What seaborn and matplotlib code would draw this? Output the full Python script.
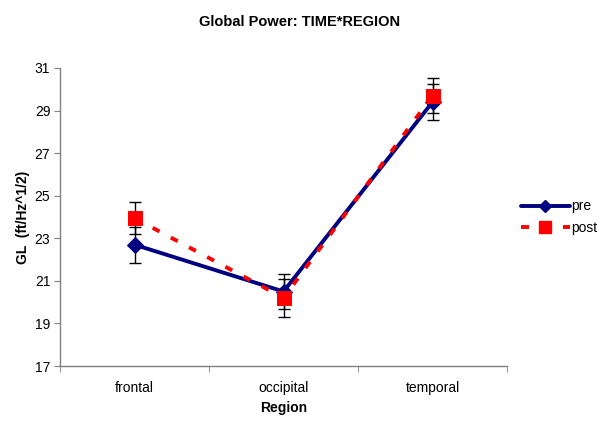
import matplotlib
matplotlib.use("Agg")
import matplotlib.pyplot as plt
import seaborn as sns
import pandas as pd
from matplotlib.lines import Line2D

regions = ["frontal", "occipital", "temporal"]
pre = [22.7, 20.5, 29.4]
post = [23.95, 20.2, 29.7]
pre_err = [0.85, 0.83, 0.85]
post_err = [0.77, 0.88, 0.83]
yticks = [17, 19, 21, 23, 25, 27, 29, 31]

sns.set_style("white")
plt.rcParams['font.family'] = ['Liberation Sans', 'DejaVu Sans']
plt.rcParams['text.color'] = 'black'
plt.rcParams['axes.labelcolor'] = 'black'
plt.rcParams['xtick.color'] = '#808080'
plt.rcParams['ytick.color'] = '#808080'
plt.rcParams['xtick.labelcolor'] = 'black'
plt.rcParams['ytick.labelcolor'] = 'black'

df = pd.DataFrame({
    "pos": list(range(3)) * 2,
    "value": pre + post,
    "time": ["pre"] * 3 + ["post"] * 3,
})

fig = plt.figure(figsize=(6, 4.21), dpi=100)
ax = fig.add_axes([0.1, 0.1306, 0.745, 0.7079])

# error bars
ax.errorbar(range(3), pre, yerr=pre_err, fmt='none', ecolor='black', elinewidth=1, capsize=4, capthick=1, zorder=1)
ax.errorbar(range(3), post, yerr=post_err, fmt='none', ecolor='black', elinewidth=1, capsize=4, capthick=1, zorder=1)

sns.lineplot(data=df[df.time == "pre"], x="pos", y="value", ax=ax, color="#000080",
             linewidth=2.8, marker="D", markersize=8, markeredgecolor="#000080", legend=False, zorder=3)
sns.lineplot(data=df[df.time == "post"], x="pos", y="value", ax=ax, color="#FF0000",
             linewidth=2.8, marker="s", markersize=10, markeredgecolor="#FF0000", legend=False, zorder=4)
ax.lines[-1].set_dashes((2, 3.3))

ax.set_xlim(-0.5, 2.5)
ax.set_ylim(17, 31)
ax.set_yticks(yticks)
ax.set_yticklabels([str(t) for t in yticks], fontsize=10)
ax.set_xticks(range(3))
ax.set_xticklabels(regions, fontsize=10)
ax.set_xticks([-0.5, 0.5, 1.5, 2.5], minor=True)
ax.tick_params(axis='x', which='major', length=0, pad=11)
ax.tick_params(axis='x', which='minor', length=4, direction='out', bottom=True)
ax.tick_params(axis='y', length=4, direction='out', left=True, pad=3)

for s in ["top", "right"]:
    ax.spines[s].set_visible(False)
for s in ["left", "bottom"]:
    ax.spines[s].set_color("#808080")
    ax.spines[s].set_linewidth(1)

ax.set_xlabel("Region", fontsize=10, fontweight='bold', labelpad=4)
ax.set_ylabel("GL  (ft/Hz^1/2)", fontsize=10, fontweight='bold', labelpad=3)
fig.text(0.5, 0.948, "Global Power: TIME*REGION", ha='center', va='center', fontsize=10.5, fontweight='bold')

handles = [
    Line2D([0], [0], color="#000080", linewidth=2.8, marker="D", markersize=6),
    Line2D([0], [0], color="#FF0000", linewidth=2.8, marker="s", markersize=9, dashes=(2.06, 3.34)),
]
fig.legend(handles, ["pre", "post"], loc='center left', bbox_to_anchor=(0.868, 0.484),
           frameon=False, fontsize=10, handlelength=3.55, handletextpad=0.05, labelspacing=0.55,
           borderaxespad=0, borderpad=0)

fig.savefig("out.png", dpi=100)
